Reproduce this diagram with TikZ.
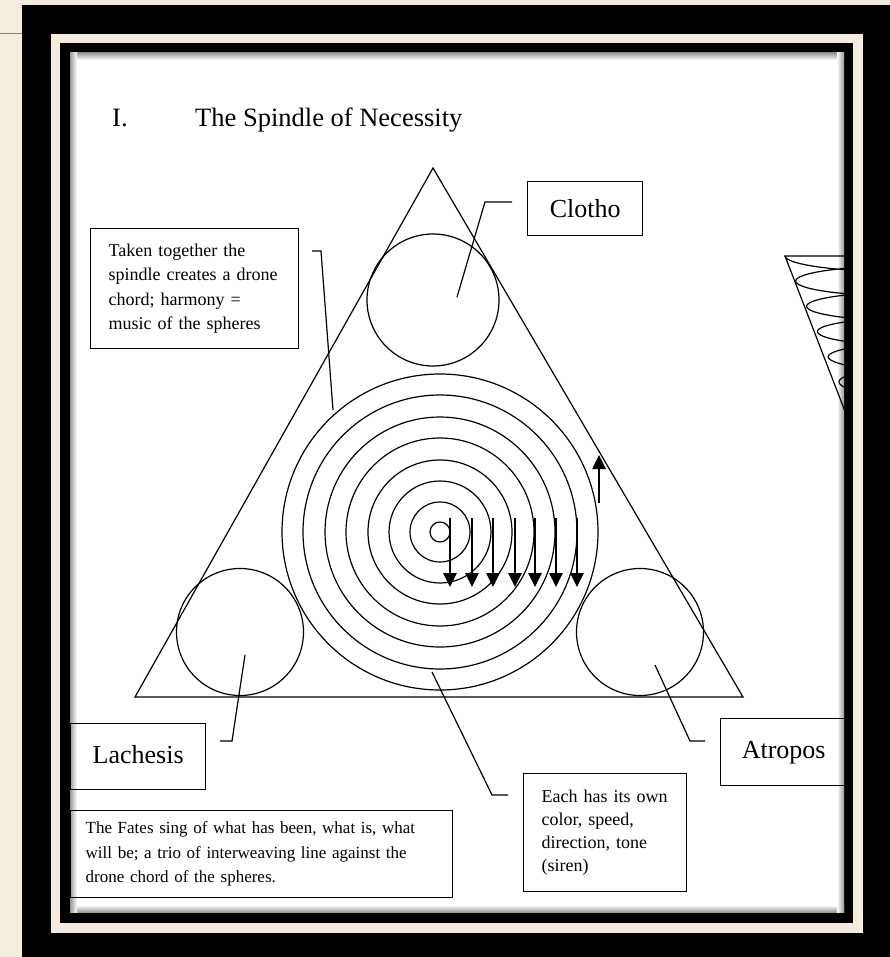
\documentclass[tikz,border=0pt]{standalone}
\usepackage{fontspec}
\setmainfont{Liberation Serif}
\usetikzlibrary{arrows.meta}
\definecolor{beige}{RGB}{244,237,222}
\begin{document}
\begin{tikzpicture}[x=1pt,y=-1pt,
  lbl/.style={draw, line width=1.3pt, font=\fontsize{26}{30}\selectfont, inner sep=0pt, anchor=north west},
  txt/.style={draw, line width=1.3pt, font=\fontsize{18}{24.5}\selectfont, align=left, inner xsep=18pt, inner ysep=0pt, anchor=north west},
  ring/.style={line width=1.2pt},
  fate/.style={circle, draw, line width=1.2pt, inner sep=0pt},
  lead/.style={line width=1.2pt},
  spinarrow/.style={line width=2.6pt, -{Triangle[width=13pt,length=14pt]}}]
\useasboundingbox (0,0) rectangle (890,957);
% frame
\fill[beige] (0,0) rectangle (890,957);
\draw[gray, line width=0.8pt] (0,33) -- (22,33);
\fill[black] (22,5) rectangle (890,957);
\fill[beige] (51,34) rectangle (863,933);
\fill[black] (60,43) rectangle (853,923);
\fill[white] (70,53) rectangle (844,912);
\shade[top color=black!40, bottom color=white] (70,53) rectangle (844,60);
\shade[top color=white, bottom color=black!40] (70,905) rectangle (844,912);
\shade[left color=black!40, right color=white] (70,53) rectangle (77,912);
\shade[left color=white, right color=black!40] (837,53) rectangle (844,912);
\begin{scope}
\clip (70,53) rectangle (844,912);
% title
\node[anchor=base west, font=\fontsize{26.5}{30}\selectfont, inner sep=0pt] (num) at (112,127) {I.};
\node[anchor=base west, font=\fontsize{26.5}{30}\selectfont, inner sep=0pt] (title) at (195,127) {The Spindle of Necessity};
% triangle
\coordinate (apex) at (433,168);
\coordinate (bl) at (135,697);
\coordinate (br) at (743,697);
\draw[line width=1.2pt] (apex) -- (bl) -- (br) -- cycle;
% fates circles
\node[fate, minimum size=132pt] (clothoC) at (433,300) {};
\node[fate, minimum size=127pt] (lachesisC) at (240,632) {};
\node[fate, minimum size=127pt] (atroposC) at (640,632) {};
% concentric spheres
\coordinate (ctr) at (440,532);
\foreach \r in {10,30,51,72,94,115,137,158}
  \draw[ring] (ctr) circle[radius=\r];
% arrows
\foreach \x [count=\i] in {450,472,493,515,535,556,577} {
  \coordinate (da\i) at (\x,518);
  \coordinate (db\i) at (\x,587);
  \draw[spinarrow] (da\i) -- (db\i);
}
\coordinate (ua) at (599,503);
\coordinate (ub) at (599,455);
\draw[spinarrow] (ua) -- (ub);
% boxes
\node[lbl, minimum width=115pt, minimum height=54pt] (clotho) at (527,181) {Clotho};
\node[lbl, minimum width=135pt, minimum height=66pt, text depth=4pt] (lachesis) at (70,723) {Lachesis};
\node[lbl, minimum width=126pt, minimum height=67pt, text depth=4pt] (atropos) at (720,718) {Atropos};
\node[txt, text width=172pt, minimum height=120pt] (taken) at (90,228)
  {Taken together the\\spindle creates a drone\\chord; harmony =\\music of the spheres};
\node[txt, text width=352pt, minimum height=87pt, inner xsep=15pt, font=\fontsize{17}{24.5}\selectfont] (fatesbox) at (70,810)
  {The Fates sing of what has been, what is, what\\will be; a trio of interweaving line against the\\drone chord of the spheres.};
\node[txt, text width=127pt, minimum height=118pt, font=\fontsize{18}{23}\selectfont] (each) at (523,773)
  {Each has its own\\color, speed,\\direction, tone\\(siren)};
% leaders
\coordinate (l1s) at (512,202); \coordinate (l1e) at (457,297);
\draw[lead] (l1s) -- (485,202) -- (l1e);
\coordinate (l2s) at (312,251); \coordinate (l2e) at (333,410);
\draw[lead] (l2s) -- (321,251) -- (l2e);
\coordinate (l3s) at (220,741); \coordinate (l3e) at (245,655);
\draw[lead] (l3s) -- (232,741) -- (l3e);
\coordinate (l4s) at (705,741); \coordinate (l4e) at (655,665);
\draw[lead] (l4s) -- (690,741) -- (l4e);
\coordinate (l5s) at (508,795); \coordinate (l5e) at (432,672);
\draw[lead] (l5s) -- (492,795) -- (l5e);
% spindle sketch at right
\coordinate (sp1) at (785,256);
\coordinate (sp2) at (860,256);
\coordinate (sp3) at (846,414);
\draw[line width=1.2pt] (sp2) -- (sp1) -- (sp3);
\draw[line width=1.2pt] plot[domain=0:6, samples=500, variable=\u]
  ({850 - 65*(1-\u/6)*cos(360*\u)}, {256 + 152*(\u/6) + 8*(1-\u/6)*sin(360*\u)});
\end{scope}
\end{tikzpicture}
\end{document}
